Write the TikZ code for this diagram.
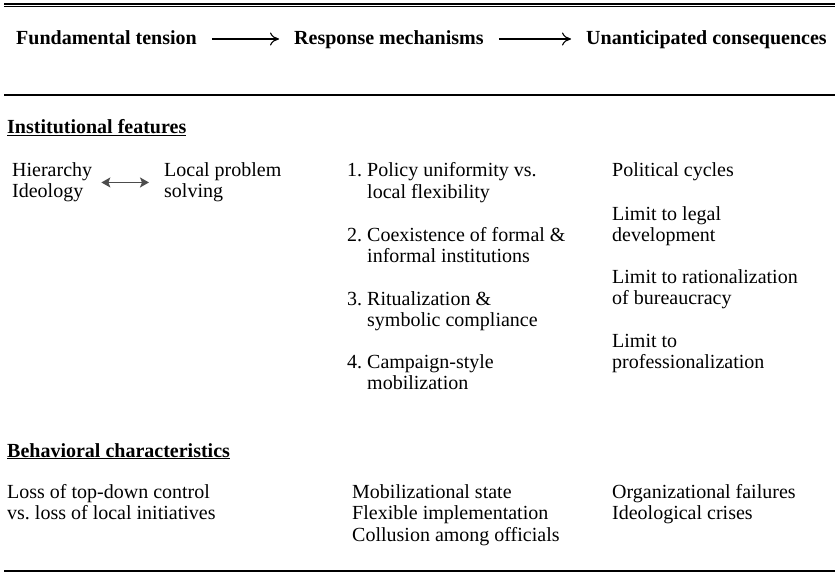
\documentclass[tikz,border=0pt]{standalone}
\usepackage{fontspec}
\setmainfont{Liberation Serif}
\usetikzlibrary{arrows.meta}
\tikzset{
  txt/.style={anchor=base west,inner sep=0pt,align=left,font=\fontsize{20}{21.5}\selectfont},
  hd/.style={txt,font=\fontsize{20}{21.5}\selectfont\bfseries},
  flow/.style={->,>={To[length=9pt,width=13pt]},line width=1.1pt,shorten >=15pt,shorten <=15pt},
  link/.style={<->,>={Stealth[length=9pt,width=10pt,inset=2pt]},line width=1.5pt,black!70,shorten <=9pt,shorten >=15pt},
  rule/.style={line width=2.4pt}
}
\newcommand\hang{\hspace*{1em}}
\begin{document}
\frenchspacing
\begin{tikzpicture}[x=1pt,y=-1pt]
\useasboundingbox (0,0) rectangle (835,572);
% rules
\draw[line width=2pt] (4,3.7) -- (835,3.7);
\draw[line width=1.1pt] (4,6.4) -- (835,6.4);
\draw[rule] (4,95) -- (835,95);
\draw[rule] (4,571) -- (835,571);
% header
\node[hd] (ft) at (16,45) {Fundamental tension};
\node[hd] (rm) at (294,45) {Response mechanisms};
\node[hd] (uc) at (586,45) {Unanticipated consequences};
\draw[flow] ([yshift=6pt]ft.base east) -- ([yshift=6pt]rm.base west);
\draw[flow] ([yshift=6pt]rm.base east) -- ([yshift=6pt]uc.base west);
% institutional features (multi-line nodes sit on their last baseline)
\node[hd] (inst) at (7,134) {\underline{Institutional features}};
\node[txt] (hier) at (12,198) {Hierarchy\\Ideology};
\node[txt] (loc) at (164,198) {Local problem\\solving};
\draw[link] (hier.east) -- (loc.west);
\node[txt] (r1) at (347,198.5) {1. Policy uniformity vs.\\\hang local flexibility};
\node[txt] (r2) at (347,262.5) {2. Coexistence of formal \&\\\hang informal institutions};
\node[txt] (r3) at (347,326.5) {3. Ritualization \&\\\hang symbolic compliance};
\node[txt] (r4) at (347,389.5) {4. Campaign-style\\\hang mobilization};
\node[txt] (c1) at (612,177) {Political cycles};
\node[txt] (c2) at (612,241.5) {Limit to legal\\development};
\node[txt] (c3) at (612,304.5) {Limit to rationalization\\of bureaucracy};
\node[txt] (c4) at (612,368.5) {Limit to\\professionalization};
% behavioral characteristics
\node[hd] (beh) at (7,457) {\underline{Behavioral characteristics}};
\node[txt] (loss) at (7,519.5) {Loss of top-down control\\vs. loss of local initiatives};
\node[txt] (mob) at (352,541) {Mobilizational state\\Flexible implementation\\Collusion among officials};
\node[txt] (org) at (612,519.5) {Organizational failures\\Ideological crises};
\end{tikzpicture}
\end{document}
